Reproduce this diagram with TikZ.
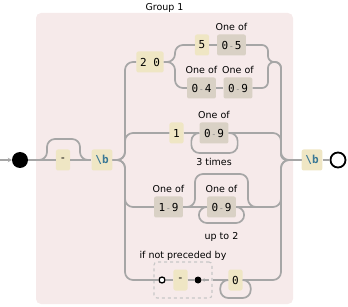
\documentclass[tikz,border=0pt]{standalone}
\usepackage{fontspec}
\setmainfont{DejaVu Sans}
\setmonofont{DejaVu Sans Mono}
\usetikzlibrary{positioning,arrows.meta}

\definecolor{grpfill}{HTML}{F6EAEA}
\definecolor{litfill}{HTML}{EFE6C4}
\definecolor{setfill}{HTML}{D9D1C5}
\definecolor{railgray}{HTML}{A6A6A6}
\definecolor{dashgray}{HTML}{8A8A8A}
\definecolor{esctext}{HTML}{3A7896}

\newcommand{\rangedash}{\makebox[6.6pt]{\textcolor{dashgray}{\fontsize{8.5}{8.5}\selectfont -}}}

\tikzset{
  rail/.style={draw=railgray, line width=1.7pt, rounded corners=8pt},
  litbox/.style={fill=litfill, rounded corners=2pt, minimum height=21pt,
                 inner xsep=3.7pt, inner ysep=0pt,
                 font=\ttfamily\fontsize{11}{11}\selectfont},
  setbox/.style={litbox, fill=setfill, inner xsep=4.5pt},
  escbox/.style={litbox, text=esctext,
                 font=\ttfamily\bfseries\fontsize{11}{11}\selectfont},
  railtext/.style={font=\fontsize{9.5}{10}\selectfont, inner sep=1pt},
}

\begin{document}
\begin{tikzpicture}[x=1pt,y=-1pt]
\useasboundingbox (0,0) rectangle (348,307);

% group
\fill[grpfill, rounded corners=5pt] (36,13) rectangle (293,304);
\node[railtext] (grptitle) at (164.5,8) {Group 1};

% terminals
\node[circle, fill=black, minimum size=16pt, inner sep=0pt] (start) at (20,160) {};
\node[circle, draw=black, line width=1.8pt, fill=white, minimum size=15pt,
      inner sep=0pt] (stop) at (338,160) {};

% items
\node[litbox] (optdash) at (63,160) {-};
\node[escbox] (bslash)  at (102,160) {\textbackslash b};
\node[escbox] (bslashR) at (312,160) {\textbackslash b};

\node[litbox] (twenty) at (150,62) {2 0};
\node[litbox] (five)   at (202,45) {5};
\node[setbox] (zfive)  at (231.5,45) {0\rangedash5};
\node[setbox] (zfour)  at (201.5,88) {0\rangedash4};
\node[setbox] (znineA) at (238,88) {0\rangedash9};

\node[litbox] (one)    at (176.5,133) {1};
\node[setbox] (znineB) at (214,133) {0\rangedash9};

\node[setbox] (onenine) at (168.5,207) {1\rangedash9};
\node[setbox] (znineC)  at (221.5,207) {0\rangedash9};

\node[draw=black!22, dashed, line width=1.1pt, rounded corners=3pt,
      minimum width=58pt, minimum height=36pt] (lbbox) at (183,280) {};
\node[circle, draw=black, line width=1.3pt, fill=white, minimum size=6pt,
      inner sep=0pt] (lbopen) at (162,280) {};
\node[litbox] (lbdash) at (180.5,280) {-};
\node[circle, fill=black, minimum size=7pt, inner sep=0pt] (lbdot) at (198,280) {};
\node[litbox] (zero) at (235.5,280) {0};

% labels
\foreach \n in {zfive,zfour,znineA,znineB,onenine,znineC}
    \node[railtext, above=2pt of \n] (oneof\n) {One of};
\node[railtext, below=13pt of znineB] (timesB) {3 times};
\node[railtext, below=14pt of znineC] (uptoC) {up to 2};
\node[railtext, above=0pt of lbbox] (lbtitle) {if not preceded by};

% junctions
\coordinate (split)  at (125,160);
\coordinate (merge)  at (281,160);
\coordinate (subsplit) at (175,62);
\coordinate (submerge) at (268,62);
\coordinate (skipin)  at (39,160);
\coordinate (skipout) at (88,160);
\coordinate (skipCin)  at (187,207);
\coordinate (skipCout) at (256,207);
\coordinate (entry) at (0,160);

% main line
\draw[rail, -{Stealth[length=4pt,width=4.5pt]}] (entry) -- (start.west);
\draw[rail] (start.east) -- (optdash.west);
\draw[rail] (optdash.east) -- (bslash.west);
\draw[rail] (skipin) -| (47,139) -| (80,160) -- (skipout);
\draw[rail] (bslashR.east) -- (stop.west);

% branch 20...
\draw[rail] (bslash.east) -| (split |- twenty) -- (twenty.west);
\draw[rail] (twenty.east) -| (subsplit |- five) -- (five.west);
\draw[rail] (twenty.east) -| (subsplit |- zfour) -- (zfour.west);
\draw[rail] (five.east) -- (zfive.west);
\draw[rail] (zfour.east) -- (znineA.west);
\draw[rail, rounded corners=6pt] (zfive.east) -| (submerge) -| (merge) -- (bslashR.west);
\draw[rail, rounded corners=6pt] (znineA.east) -| (submerge) -| (merge) -- (bslashR.west);

% branch 1...
\draw[rail] (bslash.east) -| (split |- one) -- (one.west);
\draw[rail] (one.east) -- (znineB.west);
\draw[rail] (znineB.east) -| (merge) -- (bslashR.west);
\draw[rail] (znineB.east) -| ([shift={(9,20)}]znineB.east)
    -| ([xshift=-8pt]znineB.west) -- (znineB.west);

% branch 1-9...
\draw[rail] (bslash.east) -| (split |- onenine) -- (onenine.west);
\draw[rail] (onenine.east) -- (znineC.west);
\draw[rail] (znineC.east) -| (merge) -- (bslashR.west);
\draw[rail] (skipCin) -| (195,174) -| (248,207) -- (skipCout);
\draw[rail] (znineC.east) -| ([shift={(8,16)}]znineC.east)
    -| ([xshift=-8pt]znineC.west) -- (znineC.west);

% branch lookbehind
\draw[rail] (bslash.east) -| (split |- lbopen) -- (lbopen.west);
\draw[rail] (lbopen.east) -- (lbdash.west);
\draw[rail] (lbdash.east) -- (lbdot.west);
\draw[rail, -{Stealth[length=3pt,width=3.5pt]}] ([xshift=7pt]lbdot.east) -- (lbdot.east);
\draw[rail] (lbbox.east) -- (zero.west);
\draw[rail] (zero.east) -| (merge) -- (bslashR.west);
\draw[rail] (zero.east) -| ([shift={(8,18)}]zero.east)
    -| ([xshift=-8pt]zero.west) -- (zero.west);
\end{tikzpicture}
\end{document}
